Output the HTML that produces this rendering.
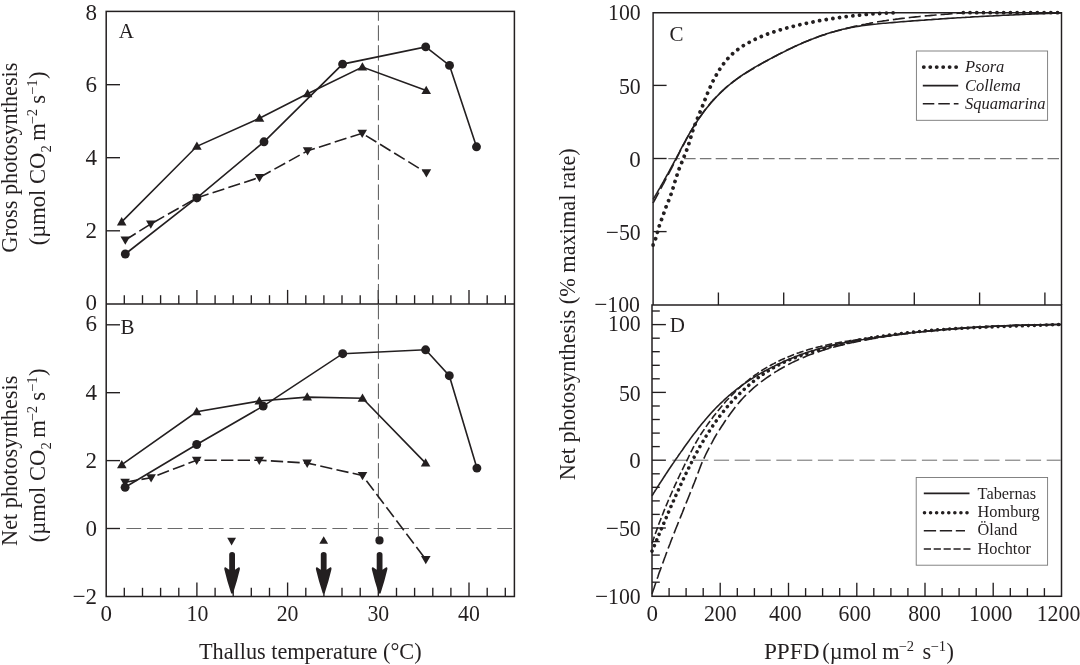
<!DOCTYPE html>
<html lang="en"><head><meta charset="utf-8"><title>Photosynthesis responses</title>
<style>
html,body{margin:0;padding:0;background:#fff;}
body{width:1080px;height:665px;overflow:hidden;}
svg{display:block;}
svg text{font-family:"Liberation Serif","Times New Roman",serif;fill:#231f20;}
</style></head><body>
<svg width="1080" height="665" viewBox="0 0 1080 665">
<rect width="1080" height="665" fill="#fff"/>
<rect x="106.2" y="11.4" width="408.2" height="585.1" fill="none" stroke="#231f20" stroke-width="1.5"/>
<line x1="106.2" y1="303.9" x2="514.4" y2="303.9" stroke="#231f20" stroke-width="1.5" />
<path d="M653.1 305 L653.1 12.8 L1061.5 12.8 L1061.5 305" fill="none" stroke="#231f20" stroke-width="1.45" />
<rect x="652.0" y="305.0" width="409.5" height="291.3" fill="none" stroke="#231f20" stroke-width="1.5"/>
<line x1="124.3" y1="303.9" x2="124.3" y2="295.2" stroke="#231f20" stroke-width="1.35" />
<line x1="124.3" y1="596.5" x2="124.3" y2="587.8" stroke="#231f20" stroke-width="1.35" />
<line x1="142.5" y1="303.9" x2="142.5" y2="295.2" stroke="#231f20" stroke-width="1.35" />
<line x1="142.5" y1="596.5" x2="142.5" y2="587.8" stroke="#231f20" stroke-width="1.35" />
<line x1="160.6" y1="303.9" x2="160.6" y2="295.2" stroke="#231f20" stroke-width="1.35" />
<line x1="160.6" y1="596.5" x2="160.6" y2="587.8" stroke="#231f20" stroke-width="1.35" />
<line x1="178.8" y1="303.9" x2="178.8" y2="295.2" stroke="#231f20" stroke-width="1.35" />
<line x1="178.8" y1="596.5" x2="178.8" y2="587.8" stroke="#231f20" stroke-width="1.35" />
<line x1="196.9" y1="303.9" x2="196.9" y2="289.9" stroke="#231f20" stroke-width="1.35" />
<line x1="196.9" y1="596.5" x2="196.9" y2="582.5" stroke="#231f20" stroke-width="1.35" />
<line x1="215.1" y1="303.9" x2="215.1" y2="295.2" stroke="#231f20" stroke-width="1.35" />
<line x1="215.1" y1="596.5" x2="215.1" y2="587.8" stroke="#231f20" stroke-width="1.35" />
<line x1="233.2" y1="303.9" x2="233.2" y2="295.2" stroke="#231f20" stroke-width="1.35" />
<line x1="233.2" y1="596.5" x2="233.2" y2="587.8" stroke="#231f20" stroke-width="1.35" />
<line x1="251.3" y1="303.9" x2="251.3" y2="295.2" stroke="#231f20" stroke-width="1.35" />
<line x1="251.3" y1="596.5" x2="251.3" y2="587.8" stroke="#231f20" stroke-width="1.35" />
<line x1="269.5" y1="303.9" x2="269.5" y2="295.2" stroke="#231f20" stroke-width="1.35" />
<line x1="269.5" y1="596.5" x2="269.5" y2="587.8" stroke="#231f20" stroke-width="1.35" />
<line x1="287.6" y1="303.9" x2="287.6" y2="289.9" stroke="#231f20" stroke-width="1.35" />
<line x1="287.6" y1="596.5" x2="287.6" y2="582.5" stroke="#231f20" stroke-width="1.35" />
<line x1="305.8" y1="303.9" x2="305.8" y2="295.2" stroke="#231f20" stroke-width="1.35" />
<line x1="305.8" y1="596.5" x2="305.8" y2="587.8" stroke="#231f20" stroke-width="1.35" />
<line x1="323.9" y1="303.9" x2="323.9" y2="295.2" stroke="#231f20" stroke-width="1.35" />
<line x1="323.9" y1="596.5" x2="323.9" y2="587.8" stroke="#231f20" stroke-width="1.35" />
<line x1="342" y1="303.9" x2="342" y2="295.2" stroke="#231f20" stroke-width="1.35" />
<line x1="342" y1="596.5" x2="342" y2="587.8" stroke="#231f20" stroke-width="1.35" />
<line x1="360.2" y1="303.9" x2="360.2" y2="295.2" stroke="#231f20" stroke-width="1.35" />
<line x1="360.2" y1="596.5" x2="360.2" y2="587.8" stroke="#231f20" stroke-width="1.35" />
<line x1="378.3" y1="303.9" x2="378.3" y2="289.9" stroke="#231f20" stroke-width="1.35" />
<line x1="378.3" y1="596.5" x2="378.3" y2="582.5" stroke="#231f20" stroke-width="1.35" />
<line x1="396.5" y1="303.9" x2="396.5" y2="295.2" stroke="#231f20" stroke-width="1.35" />
<line x1="396.5" y1="596.5" x2="396.5" y2="587.8" stroke="#231f20" stroke-width="1.35" />
<line x1="414.6" y1="303.9" x2="414.6" y2="295.2" stroke="#231f20" stroke-width="1.35" />
<line x1="414.6" y1="596.5" x2="414.6" y2="587.8" stroke="#231f20" stroke-width="1.35" />
<line x1="432.8" y1="303.9" x2="432.8" y2="295.2" stroke="#231f20" stroke-width="1.35" />
<line x1="432.8" y1="596.5" x2="432.8" y2="587.8" stroke="#231f20" stroke-width="1.35" />
<line x1="450.9" y1="303.9" x2="450.9" y2="295.2" stroke="#231f20" stroke-width="1.35" />
<line x1="450.9" y1="596.5" x2="450.9" y2="587.8" stroke="#231f20" stroke-width="1.35" />
<line x1="469" y1="303.9" x2="469" y2="289.9" stroke="#231f20" stroke-width="1.35" />
<line x1="469" y1="596.5" x2="469" y2="582.5" stroke="#231f20" stroke-width="1.35" />
<line x1="487.2" y1="303.9" x2="487.2" y2="295.2" stroke="#231f20" stroke-width="1.35" />
<line x1="487.2" y1="596.5" x2="487.2" y2="587.8" stroke="#231f20" stroke-width="1.35" />
<line x1="505.3" y1="303.9" x2="505.3" y2="295.2" stroke="#231f20" stroke-width="1.35" />
<line x1="505.3" y1="596.5" x2="505.3" y2="587.8" stroke="#231f20" stroke-width="1.35" />
<line x1="106.2" y1="230.8" x2="120" y2="230.8" stroke="#231f20" stroke-width="1.35" />
<line x1="106.2" y1="157.7" x2="120" y2="157.7" stroke="#231f20" stroke-width="1.35" />
<line x1="106.2" y1="84.7" x2="120" y2="84.7" stroke="#231f20" stroke-width="1.35" />
<line x1="106.2" y1="528.5" x2="120" y2="528.5" stroke="#231f20" stroke-width="1.35" />
<line x1="106.2" y1="460.6" x2="120" y2="460.6" stroke="#231f20" stroke-width="1.35" />
<line x1="106.2" y1="392.7" x2="120" y2="392.7" stroke="#231f20" stroke-width="1.35" />
<line x1="106.2" y1="324.8" x2="120" y2="324.8" stroke="#231f20" stroke-width="1.35" />
<line x1="718.4" y1="305" x2="718.4" y2="292.5" stroke="#231f20" stroke-width="1.35" />
<line x1="783.7" y1="305" x2="783.7" y2="292.5" stroke="#231f20" stroke-width="1.35" />
<line x1="849" y1="305" x2="849" y2="292.5" stroke="#231f20" stroke-width="1.35" />
<line x1="914.3" y1="305" x2="914.3" y2="292.5" stroke="#231f20" stroke-width="1.35" />
<line x1="979.6" y1="305" x2="979.6" y2="292.5" stroke="#231f20" stroke-width="1.35" />
<line x1="1044.9" y1="305" x2="1044.9" y2="292.5" stroke="#231f20" stroke-width="1.35" />
<line x1="653.1" y1="85.4" x2="666.6" y2="85.4" stroke="#231f20" stroke-width="1.35" />
<line x1="653.1" y1="158.5" x2="666.6" y2="158.5" stroke="#231f20" stroke-width="1.35" />
<line x1="653.1" y1="231.6" x2="666.6" y2="231.6" stroke="#231f20" stroke-width="1.35" />
<line x1="669.1" y1="596.3" x2="669.1" y2="588.1" stroke="#231f20" stroke-width="1.35" />
<line x1="686.1" y1="596.3" x2="686.1" y2="588.1" stroke="#231f20" stroke-width="1.35" />
<line x1="703.2" y1="596.3" x2="703.2" y2="588.1" stroke="#231f20" stroke-width="1.35" />
<line x1="720.2" y1="596.3" x2="720.2" y2="582.8" stroke="#231f20" stroke-width="1.35" />
<line x1="737.3" y1="596.3" x2="737.3" y2="588.1" stroke="#231f20" stroke-width="1.35" />
<line x1="754.4" y1="596.3" x2="754.4" y2="588.1" stroke="#231f20" stroke-width="1.35" />
<line x1="771.4" y1="596.3" x2="771.4" y2="588.1" stroke="#231f20" stroke-width="1.35" />
<line x1="788.5" y1="596.3" x2="788.5" y2="582.8" stroke="#231f20" stroke-width="1.35" />
<line x1="805.6" y1="596.3" x2="805.6" y2="588.1" stroke="#231f20" stroke-width="1.35" />
<line x1="822.6" y1="596.3" x2="822.6" y2="588.1" stroke="#231f20" stroke-width="1.35" />
<line x1="839.7" y1="596.3" x2="839.7" y2="588.1" stroke="#231f20" stroke-width="1.35" />
<line x1="856.8" y1="596.3" x2="856.8" y2="582.8" stroke="#231f20" stroke-width="1.35" />
<line x1="873.8" y1="596.3" x2="873.8" y2="588.1" stroke="#231f20" stroke-width="1.35" />
<line x1="890.9" y1="596.3" x2="890.9" y2="588.1" stroke="#231f20" stroke-width="1.35" />
<line x1="907.9" y1="596.3" x2="907.9" y2="588.1" stroke="#231f20" stroke-width="1.35" />
<line x1="925" y1="596.3" x2="925" y2="582.8" stroke="#231f20" stroke-width="1.35" />
<line x1="942.1" y1="596.3" x2="942.1" y2="588.1" stroke="#231f20" stroke-width="1.35" />
<line x1="959.1" y1="596.3" x2="959.1" y2="588.1" stroke="#231f20" stroke-width="1.35" />
<line x1="976.2" y1="596.3" x2="976.2" y2="588.1" stroke="#231f20" stroke-width="1.35" />
<line x1="993.2" y1="596.3" x2="993.2" y2="582.8" stroke="#231f20" stroke-width="1.35" />
<line x1="1010.3" y1="596.3" x2="1010.3" y2="588.1" stroke="#231f20" stroke-width="1.35" />
<line x1="1027.4" y1="596.3" x2="1027.4" y2="588.1" stroke="#231f20" stroke-width="1.35" />
<line x1="1044.4" y1="596.3" x2="1044.4" y2="588.1" stroke="#231f20" stroke-width="1.35" />
<line x1="652" y1="582.2" x2="659.8" y2="582.2" stroke="#231f20" stroke-width="1.35" />
<line x1="652" y1="568.7" x2="659.8" y2="568.7" stroke="#231f20" stroke-width="1.35" />
<line x1="652" y1="555.1" x2="659.8" y2="555.1" stroke="#231f20" stroke-width="1.35" />
<line x1="652" y1="541.6" x2="659.8" y2="541.6" stroke="#231f20" stroke-width="1.35" />
<line x1="652" y1="528" x2="665.9" y2="528" stroke="#231f20" stroke-width="1.35" />
<line x1="652" y1="514.4" x2="659.8" y2="514.4" stroke="#231f20" stroke-width="1.35" />
<line x1="652" y1="500.9" x2="659.8" y2="500.9" stroke="#231f20" stroke-width="1.35" />
<line x1="652" y1="487.3" x2="659.8" y2="487.3" stroke="#231f20" stroke-width="1.35" />
<line x1="652" y1="473.8" x2="659.8" y2="473.8" stroke="#231f20" stroke-width="1.35" />
<line x1="652" y1="460.2" x2="665.9" y2="460.2" stroke="#231f20" stroke-width="1.35" />
<line x1="652" y1="446.6" x2="659.8" y2="446.6" stroke="#231f20" stroke-width="1.35" />
<line x1="652" y1="433.1" x2="659.8" y2="433.1" stroke="#231f20" stroke-width="1.35" />
<line x1="652" y1="419.5" x2="659.8" y2="419.5" stroke="#231f20" stroke-width="1.35" />
<line x1="652" y1="406" x2="659.8" y2="406" stroke="#231f20" stroke-width="1.35" />
<line x1="652" y1="392.4" x2="665.9" y2="392.4" stroke="#231f20" stroke-width="1.35" />
<line x1="652" y1="378.8" x2="659.8" y2="378.8" stroke="#231f20" stroke-width="1.35" />
<line x1="652" y1="365.3" x2="659.8" y2="365.3" stroke="#231f20" stroke-width="1.35" />
<line x1="652" y1="351.7" x2="659.8" y2="351.7" stroke="#231f20" stroke-width="1.35" />
<line x1="652" y1="338.2" x2="659.8" y2="338.2" stroke="#231f20" stroke-width="1.35" />
<line x1="652" y1="324.6" x2="665.9" y2="324.6" stroke="#231f20" stroke-width="1.35" />
<line x1="652" y1="311" x2="659.8" y2="311" stroke="#231f20" stroke-width="1.35" />
<line x1="126.4" y1="528.5" x2="513.7" y2="528.5" stroke="#6a6a6a" stroke-width="1.0" stroke-dasharray="14.8 5.8"/>
<line x1="668.3" y1="158.5" x2="1060.8" y2="158.5" stroke="#777" stroke-width="1.25" stroke-dasharray="11.5 4.3"/>
<line x1="672.3" y1="460.2" x2="1060.8" y2="460.2" stroke="#6a6a6a" stroke-width="1.0" stroke-dasharray="15.2 5.6"/>
<line x1="378.4" y1="11.4" x2="378.4" y2="536.5" stroke="#555" stroke-width="1.0" stroke-dasharray="15.4 4.5" stroke-dashoffset="6"/>
<path d="M125.3 254 L196.9 197.9 L264 141.8 L342.6 64.1 L425.7 46.9 L449.5 65.4 L476.5 146.8" fill="none" stroke="#231f20" stroke-width="1.6" />
<path d="M121.7 221.9 L196.9 146.3 L259.5 118.2 L307.6 93.7 L362.4 67.1 L426.2 90.5" fill="none" stroke="#231f20" stroke-width="1.6" />
<path d="M125.3 240 L150.8 224 L196.9 197.9 L259.5 177.4 L307.6 150.8 L362.2 133.3 L426.4 172.8" fill="none" stroke="#231f20" stroke-width="1.6" stroke-dasharray="12.3 4.3"/>
<path d="M125.1 487.3 L196.7 444.5 L263.2 406.1 L342.7 353.7 L425.6 349.8 L449.3 375.7 L476.9 468.1" fill="none" stroke="#231f20" stroke-width="1.6" />
<path d="M121.8 464.7 L196.7 411.8 L259.3 401 L307.2 397.1 L362.5 398.2 L425.6 463.1" fill="none" stroke="#231f20" stroke-width="1.6" />
<path d="M125.1 482.2 L151.1 477.7 L196.7 460.2 L259.3 460.2 L307.2 463.1 L362.5 475.5 L425.8 559.5" fill="none" stroke="#231f20" stroke-width="1.6" stroke-dasharray="12.3 4.3"/>
<circle cx="125.3" cy="254" r="4.45" fill="#231f20"/>
<circle cx="196.9" cy="197.9" r="4.45" fill="#231f20"/>
<circle cx="264" cy="141.8" r="4.45" fill="#231f20"/>
<circle cx="342.6" cy="64.1" r="4.45" fill="#231f20"/>
<circle cx="425.7" cy="46.9" r="4.45" fill="#231f20"/>
<circle cx="449.5" cy="65.4" r="4.45" fill="#231f20"/>
<circle cx="476.5" cy="146.8" r="4.45" fill="#231f20"/>
<circle cx="125.1" cy="487.3" r="4.45" fill="#231f20"/>
<circle cx="196.7" cy="444.5" r="4.45" fill="#231f20"/>
<circle cx="263.2" cy="406.1" r="4.45" fill="#231f20"/>
<circle cx="342.7" cy="353.7" r="4.45" fill="#231f20"/>
<circle cx="425.6" cy="349.8" r="4.45" fill="#231f20"/>
<circle cx="449.3" cy="375.7" r="4.45" fill="#231f20"/>
<circle cx="476.9" cy="468.1" r="4.45" fill="#231f20"/>
<path d="M116.9 225.4 L126.5 225.4 L121.7 217.1Z" fill="#231f20"/>
<path d="M192.1 149.8 L201.7 149.8 L196.9 141.5Z" fill="#231f20"/>
<path d="M254.7 121.7 L264.3 121.7 L259.5 113.4Z" fill="#231f20"/>
<path d="M302.8 97.2 L312.4 97.2 L307.6 88.9Z" fill="#231f20"/>
<path d="M357.6 70.6 L367.2 70.6 L362.4 62.3Z" fill="#231f20"/>
<path d="M421.4 94 L431 94 L426.2 85.7Z" fill="#231f20"/>
<path d="M117 468.2 L126.6 468.2 L121.8 459.9Z" fill="#231f20"/>
<path d="M191.9 415.3 L201.5 415.3 L196.7 407Z" fill="#231f20"/>
<path d="M254.5 404.5 L264.1 404.5 L259.3 396.2Z" fill="#231f20"/>
<path d="M302.4 400.6 L312 400.6 L307.2 392.3Z" fill="#231f20"/>
<path d="M357.7 401.7 L367.3 401.7 L362.5 393.4Z" fill="#231f20"/>
<path d="M420.8 466.6 L430.4 466.6 L425.6 458.3Z" fill="#231f20"/>
<path d="M120.5 236.5 L130.1 236.5 L125.3 244.8Z" fill="#231f20"/>
<path d="M146 220.5 L155.6 220.5 L150.8 228.8Z" fill="#231f20"/>
<path d="M192.1 194.4 L201.7 194.4 L196.9 202.7Z" fill="#231f20"/>
<path d="M254.7 173.9 L264.3 173.9 L259.5 182.2Z" fill="#231f20"/>
<path d="M302.8 147.3 L312.4 147.3 L307.6 155.6Z" fill="#231f20"/>
<path d="M357.4 129.8 L367 129.8 L362.2 138.1Z" fill="#231f20"/>
<path d="M421.6 169.3 L431.2 169.3 L426.4 177.6Z" fill="#231f20"/>
<path d="M120.3 478.7 L129.9 478.7 L125.1 487Z" fill="#231f20"/>
<path d="M146.3 474.2 L155.9 474.2 L151.1 482.5Z" fill="#231f20"/>
<path d="M191.9 456.7 L201.5 456.7 L196.7 465Z" fill="#231f20"/>
<path d="M254.5 456.7 L264.1 456.7 L259.3 465Z" fill="#231f20"/>
<path d="M302.4 459.6 L312 459.6 L307.2 467.9Z" fill="#231f20"/>
<path d="M357.7 472 L367.3 472 L362.5 480.3Z" fill="#231f20"/>
<path d="M421 556 L430.6 556 L425.8 564.3Z" fill="#231f20"/>
<path d="M229.2 554.6 Q229.2 552 232.1 552 Q235 552 235 554.6 L235 569.8 L238.7 567.2 Q240.4 566.8 239.7 570.1 Q237.3 580.6 233 593.4 L231.2 593.4 Q226.9 580.6 224.5 570.1 Q223.8 566.8 225.5 567.2 L229.2 569.8Z" fill="#231f20"/>
<path d="M320.8 554.6 Q320.8 552 323.7 552 Q326.6 552 326.6 554.6 L326.6 569.8 L330.3 567.2 Q332 566.8 331.3 570.1 Q328.9 580.6 324.6 593.4 L322.8 593.4 Q318.5 580.6 316.1 570.1 Q315.4 566.8 317.1 567.2 L320.8 569.8Z" fill="#231f20"/>
<path d="M376.7 554.6 Q376.7 552 379.6 552 Q382.5 552 382.5 554.6 L382.5 569.8 L386.2 567.2 Q387.9 566.8 387.2 570.1 Q384.8 580.6 380.5 593.4 L378.7 593.4 Q374.4 580.6 372 570.1 Q371.3 566.8 373 567.2 L376.7 569.8Z" fill="#231f20"/>
<path d="M227.2 537.8 L236 537.8 L231.6 545.4Z" fill="#231f20"/>
<path d="M319.3 543.8 L328.1 543.8 L323.7 536.2Z" fill="#231f20"/>
<circle cx="379.5" cy="540.4" r="4.1" fill="#231f20"/>
<path d="M653.1 199.4 L653.2 199.3 L653.3 199.1 L653.5 198.8 L653.7 198.4 L653.9 198 L654.2 197.5 L654.5 197 L654.9 196.4 L655.2 195.8 L655.6 195.1 L656.1 194.4 L656.5 193.7 L657 192.9 L657.5 192 L658 191.1 L658.5 190.2 L659 189.3 L659.6 188.3 L660.2 187.3 L660.8 186.2 L661.4 185.1 L662.1 183.9 L662.7 182.8 L663.4 181.6 L664.1 180.3 L664.8 179 L665.6 177.7 L666.3 176.4 L667.1 175 L667.9 173.6 L668.7 172.1 L669.5 170.7 L670.3 169.1 L671.1 167.6 L672 166 L672.9 164.4 L673.7 162.8 L674.6 161.1 L675.6 159.4 L676.5 157.7 L677.4 155.9 L678.4 154 L679.4 152.1 L680.3 150.2 L681.3 148.3 L682.3 146.4 L683.4 144.5 L684.4 142.6 L685.5 140.7 L686.5 138.7 L687.6 136.8 L688.7 134.9 L689.8 132.9 L690.9 131 L692 129.1 L693.2 127.3 L694.3 125.5 L695.5 123.7 L696.7 122 L697.8 120.2 L699 118.5 L700.2 116.8 L701.5 115 L702.7 113.3 L704 111.6 L705.2 110 L706.5 108.3 L707.8 106.7 L709.1 105.2 L710.4 103.6 L711.7 102.1 L713 100.6 L714.3 99.2 L715.7 97.7 L717 96.3 L718.4 94.9 L719.8 93.5 L721.2 92.2 L722.6 90.8 L724 89.5 L725.4 88.2 L726.8 87 L728.3 85.7 L729.7 84.5 L731.2 83.3 L732.7 82.1 L734.2 81 L735.7 79.8 L737.2 78.7 L738.7 77.6 L740.2 76.5 L741.8 75.5 L743.3 74.4 L744.9 73.4 L746.4 72.4 L748 71.4 L749.6 70.4 L751.2 69.4 L752.8 68.5 L754.4 67.5 L756 66.6 L757.7 65.6 L759.3 64.7 L761 63.8 L762.6 62.9 L764.3 62 L766 61.1 L767.7 60.2 L769.4 59.3 L771.1 58.4 L772.8 57.5 L774.6 56.6 L776.3 55.7 L778 54.8 L779.8 53.9 L781.6 53 L783.3 52.1 L785.1 51.2 L786.9 50.4 L788.7 49.5 L790.5 48.6 L792.4 47.7 L794.2 46.9 L796 46 L797.9 45.1 L799.7 44.3 L801.6 43.4 L803.5 42.6 L805.4 41.8 L807.3 41 L809.2 40.2 L811.1 39.4 L813 38.7 L814.9 37.9 L816.9 37.2 L818.8 36.5 L820.7 35.8 L822.7 35.1 L824.7 34.5 L826.7 33.8 L828.6 33.2 L830.6 32.6 L832.7 32 L834.7 31.4 L836.7 30.9 L838.7 30.3 L840.8 29.8 L842.8 29.3 L844.9 28.9 L846.9 28.4 L849 27.9 L851.1 27.5 L853.2 27.1 L855.3 26.8 L857.4 26.4 L859.5 26.1 L861.6 25.8 L863.7 25.5 L865.9 25.2 L868 24.9 L870.2 24.6 L872.3 24.4 L874.5 24.2 L876.7 24 L878.8 23.7 L881 23.5 L883.2 23.3 L885.5 23.2 L887.7 23 L889.9 22.8 L892.1 22.6 L894.4 22.4 L896.6 22.2 L898.9 22 L901.1 21.8 L903.4 21.6 L905.7 21.5 L908 21.3 L910.3 21.1 L912.6 20.9 L914.9 20.8 L917.2 20.6 L919.5 20.4 L921.9 20.2 L924.2 20.1 L926.5 19.9 L928.9 19.7 L931.3 19.6 L933.6 19.4 L936 19.2 L938.4 19.1 L940.8 18.9 L943.2 18.8 L945.6 18.6 L948 18.4 L950.4 18.3 L952.9 18.1 L955.3 18 L957.8 17.8 L960.2 17.7 L962.7 17.5 L965.1 17.4 L967.6 17.2 L970.1 17.1 L972.6 16.9 L975.1 16.8 L977.6 16.7 L980.1 16.5 L982.6 16.4 L985.1 16.3 L987.7 16.1 L990.2 16 L992.8 15.9 L995.3 15.7 L997.9 15.6 L1000.5 15.5 L1003 15.3 L1005.6 15.2 L1008.2 15.1 L1010.8 15 L1013.4 14.9 L1016 14.7 L1018.6 14.6 L1021.3 14.5 L1023.9 14.4 L1026.5 14.3 L1029.2 14.2 L1031.8 14 L1034.5 13.9 L1037.2 13.8 L1039.8 13.7 L1042.5 13.6 L1045.2 13.5 L1047.9 13.4 L1050.6 13.3 L1053.3 13.2 L1056 13.1 L1058.8 13 L1061.5 12.9" fill="none" stroke="#231f20" stroke-width="1.6" />
<path d="M653.1 203 L653.1 202.9 L653.2 202.7 L653.4 202.5 L653.5 202.2 L653.7 201.8 L654 201.4 L654.2 201 L654.4 200.5 L654.7 200 L655 199.5 L655.3 198.9 L655.7 198.3 L656 197.6 L656.4 196.9 L656.8 196.2 L657.2 195.5 L657.6 194.7 L658 193.9 L658.5 193.1 L658.9 192.2 L659.4 191.3 L659.9 190.4 L660.4 189.5 L660.9 188.5 L661.4 187.5 L662 186.5 L662.5 185.4 L663.1 184.4 L663.7 183.3 L664.3 182.1 L664.9 181 L665.5 179.8 L666.1 178.6 L666.7 177.4 L667.4 176.2 L668 174.9 L668.7 173.6 L669.4 172.3 L670.1 171 L670.8 169.6 L671.5 168.3 L672.2 166.9 L673 165.4 L673.7 164 L674.5 162.5 L675.2 161 L676 159.5 L676.8 158 L677.6 156.4 L678.4 154.8 L679.2 153.2 L680 151.5 L680.8 149.9 L681.7 148.3 L682.5 146.6 L683.4 145 L684.3 143.3 L685.2 141.7 L686 140 L686.9 138.3 L687.8 136.7 L688.8 135 L689.7 133.3 L690.6 131.7 L691.6 130.1 L692.5 128.4 L693.5 126.9 L694.4 125.4 L695.4 123.8 L696.4 122.3 L697.4 120.8 L698.4 119.3 L699.4 117.8 L700.4 116.4 L701.5 114.9 L702.5 113.4 L703.5 112 L704.6 110.5 L705.7 109.1 L706.7 107.7 L707.8 106.4 L708.9 105 L710 103.7 L711.1 102.4 L712.2 101.2 L713.3 99.9 L714.4 98.7 L715.6 97.5 L716.7 96.3 L717.8 95.1 L719 94 L720.2 92.9 L721.3 91.7 L722.5 90.6 L723.7 89.5 L724.9 88.5 L726.1 87.4 L727.3 86.4 L728.5 85.4 L729.7 84.4 L731 83.4 L732.2 82.5 L733.4 81.5 L734.7 80.6 L735.9 79.7 L737.2 78.8 L738.5 77.9 L739.8 77 L741.1 76.2 L742.4 75.3 L743.7 74.5 L745 73.6 L746.3 72.8 L747.6 72 L748.9 71.2 L750.3 70.4 L751.6 69.6 L753 68.8 L754.3 68 L755.7 67.2 L757.1 66.4 L758.4 65.6 L759.8 64.8 L761.2 63.9 L762.6 63.1 L764 62.3 L765.4 61.5 L766.8 60.7 L768.3 59.9 L769.7 59.1 L771.1 58.4 L772.6 57.6 L774 56.8 L775.5 56 L777 55.2 L778.4 54.4 L779.9 53.7 L781.4 52.9 L782.9 52.1 L784.4 51.3 L785.9 50.6 L787.4 49.8 L788.9 49.1 L790.4 48.4 L792 47.7 L793.5 46.9 L795 46.2 L796.6 45.5 L798.1 44.8 L799.7 44.2 L801.3 43.5 L802.8 42.8 L804.4 42.2 L806 41.5 L807.6 40.9 L809.2 40.2 L810.8 39.6 L812.4 39 L814 38.4 L815.6 37.8 L817.3 37.2 L818.9 36.6 L820.5 36.1 L822.2 35.5 L823.8 35 L825.5 34.4 L827.2 33.9 L828.8 33.3 L830.5 32.8 L832.2 32.3 L833.9 31.8 L835.6 31.3 L837.3 30.8 L839 30.4 L840.7 29.9 L842.4 29.4 L844.1 29 L845.9 28.5 L847.6 28.1 L849.4 27.7 L851.1 27.2 L852.9 26.8 L854.6 26.4 L856.4 26 L858.1 25.6 L859.9 25.3 L861.7 24.9 L863.5 24.5 L865.3 24.2 L867.1 23.8 L868.9 23.5 L870.7 23.1 L872.5 22.8 L874.3 22.5 L876.2 22.2 L878 21.8 L879.8 21.5 L881.7 21.2 L883.5 20.9 L885.4 20.7 L887.3 20.4 L889.1 20.1 L891 19.9 L892.9 19.6 L894.8 19.4 L896.6 19.1 L898.5 18.9 L900.4 18.6 L902.3 18.4 L904.2 18.2 L906.2 17.9 L908.1 17.7 L910 17.5 L911.9 17.3 L913.9 17.1 L915.8 16.9 L917.8 16.7 L919.7 16.5 L921.7 16.3 L923.7 16.1 L925.6 15.9 L927.6 15.8 L929.6 15.6 L931.6 15.4 L933.6 15.2 L935.6 15 L937.6 14.9 L939.6 14.7 L941.6 14.5 L943.6 14.4 L945.6 14.2 L947.7 14.1 L949.7 13.9 L951.7 13.7 L953.8 13.6 L955.8 13.4 L957.9 13.2 L959.9 13.1 L962 12.9" fill="none" stroke="#231f20" stroke-width="1.6" stroke-dasharray="12 4"/>
<path d="M653.1 245 L653.1 244.9 L653.2 244.8 L653.3 244.7 L653.4 244.5 L653.5 244.2 L653.6 244 L653.7 243.7 L653.9 243.3 L654 242.9 L654.2 242.5 L654.4 242.1 L654.6 241.6 L654.8 241.1 L655 240.5 L655.2 239.9 L655.5 239.2 L655.7 238.5 L656 237.7 L656.2 236.9 L656.5 235.9 L656.8 234.9 L657.1 233.9 L657.3 232.7 L657.6 231.6 L658 230.4 L658.3 229.2 L658.6 228.1 L658.9 226.9 L659.3 225.8 L659.6 224.8 L660 223.8 L660.3 222.8 L660.7 221.8 L661 220.9 L661.4 219.9 L661.8 218.9 L662.2 217.8 L662.6 216.8 L663 215.7 L663.4 214.5 L663.8 213.3 L664.2 212.1 L664.7 210.8 L665.1 209.6 L665.5 208.3 L666 207 L666.4 205.8 L666.9 204.6 L667.4 203.5 L667.8 202.4 L668.3 201.3 L668.8 200.2 L669.3 199 L669.7 197.8 L670.2 196.5 L670.7 195.1 L671.3 193.6 L671.8 192.1 L672.3 190.5 L672.8 188.8 L673.3 187.2 L673.9 185.5 L674.4 183.7 L674.9 181.8 L675.5 179.9 L676.1 178.1 L676.6 176.3 L677.2 174.5 L677.7 172.7 L678.3 171 L678.9 169.4 L679.5 167.9 L680.1 166.4 L680.7 164.9 L681.3 163.5 L681.9 162.1 L682.5 160.6 L683.1 159.2 L683.7 157.7 L684.3 156.1 L684.9 154.5 L685.6 152.9 L686.2 151.2 L686.9 149.5 L687.5 147.7 L688.2 145.9 L688.8 143.9 L689.5 141.8 L690.1 139.6 L690.8 137.3 L691.5 135.1 L692.1 132.9 L692.8 130.7 L693.5 128.7 L694.2 126.8 L694.9 124.9 L695.6 123.1 L696.3 121.2 L697 119.5 L697.7 117.7 L698.4 115.9 L699.2 114.2 L699.9 112.4 L700.6 110.6 L701.3 108.8 L702.1 107 L702.8 105.2 L703.6 103.2 L704.3 101.2 L705.1 99.3 L705.8 97.4 L706.6 95.5 L707.4 93.6 L708.1 91.7 L708.9 89.9 L709.7 88.2 L710.5 86.4 L711.2 84.8 L712 83.1 L712.8 81.5 L713.6 79.9 L714.4 78.3 L715.2 76.8 L716.1 75.4 L716.9 73.9 L717.7 72.5 L718.5 71.2 L719.3 69.9 L720.2 68.6 L721 67.3 L721.8 66.1 L722.7 64.9 L723.5 63.8 L724.4 62.7 L725.2 61.6 L726.1 60.5 L726.9 59.5 L727.8 58.6 L728.7 57.6 L729.5 56.7 L730.4 55.8 L731.3 54.9 L732.2 54.1 L733.1 53.3 L734 52.5 L734.9 51.7 L735.7 51 L736.7 50.3 L737.6 49.6 L738.5 48.9 L739.4 48.3 L740.3 47.6 L741.2 47 L742.1 46.4 L743.1 45.8 L744 45.3 L744.9 44.7 L745.9 44.2 L746.8 43.6 L747.8 43.1 L748.7 42.6 L749.7 42.1 L750.6 41.5 L751.6 41.1 L752.5 40.6 L753.5 40.1 L754.5 39.6 L755.4 39.2 L756.4 38.7 L757.4 38.2 L758.4 37.8 L759.4 37.4 L760.4 36.9 L761.3 36.5 L762.3 36.1 L763.3 35.7 L764.3 35.3 L765.4 34.9 L766.4 34.5 L767.4 34.1 L768.4 33.8 L769.4 33.4 L770.4 33 L771.5 32.7 L772.5 32.3 L773.5 32 L774.6 31.6 L775.6 31.3 L776.7 31 L777.7 30.7 L778.8 30.3 L779.8 30 L780.9 29.7 L781.9 29.4 L783 29.1 L784.1 28.8 L785.1 28.5 L786.2 28.2 L787.3 27.9 L788.4 27.6 L789.4 27.3 L790.5 27.1 L791.6 26.8 L792.7 26.5 L793.8 26.2 L794.9 26 L796 25.7 L797.1 25.4 L798.2 25.2 L799.3 24.9 L800.5 24.6 L801.6 24.4 L802.7 24.1 L803.8 23.9 L805 23.6 L806.1 23.4 L807.2 23.1 L808.4 22.9 L809.5 22.7 L810.6 22.4 L811.8 22.2 L812.9 22 L814.1 21.7 L815.3 21.5 L816.4 21.3 L817.6 21.1 L818.7 20.9 L819.9 20.6 L821.1 20.4 L822.3 20.2 L823.4 20 L824.6 19.8 L825.8 19.6 L827 19.4 L828.2 19.2 L829.4 19 L830.6 18.8 L831.8 18.6 L833 18.5 L834.2 18.3 L835.4 18.1 L836.6 17.9 L837.8 17.7 L839 17.6 L840.3 17.4 L841.5 17.2 L842.7 17.1 L843.9 16.9 L845.2 16.7 L846.4 16.6 L847.6 16.4 L848.9 16.3 L850.1 16.1 L851.4 16 L852.6 15.8 L853.9 15.7 L855.1 15.6 L856.4 15.4 L857.7 15.3 L858.9 15.2 L860.2 15 L861.5 14.9 L862.7 14.8 L864 14.7 L865.3 14.6 L866.6 14.4 L867.9 14.3 L869.1 14.2 L870.4 14.1 L871.7 14 L873 13.9 L874.3 13.8 L875.6 13.8 L876.9 13.7 L878.2 13.6 L879.6 13.5 L880.9 13.4 L882.2 13.4 L883.5 13.3 L884.8 13.2 L886.2 13.1 L887.5 13.1 L888.8 13 L890.1 12.9 L891.5 12.9 L892.8 12.8 L894.2 12.8 L895.5 12.8" fill="none" stroke="#231f20" stroke-width="3.8" stroke-dasharray="0.01 6.72" stroke-linecap="round"/>
<path d="M963.3 12.7 L964.8 12.7 L966.3 12.7 L967.8 12.7 L969.3 12.7 L970.7 12.7 L972.2 12.7 L973.7 12.7 L975.2 12.7 L976.7 12.7 L978.2 12.7 L979.7 12.7 L981.2 12.7 L982.7 12.7 L984.3 12.7 L985.8 12.7 L987.3 12.7 L988.8 12.7 L990.3 12.7 L991.9 12.7 L993.4 12.7 L994.9 12.7 L996.5 12.7 L998 12.7 L999.5 12.7 L1001.1 12.7 L1002.6 12.7 L1004.2 12.7 L1005.7 12.7 L1007.3 12.7 L1008.8 12.7 L1010.4 12.7 L1011.9 12.7 L1013.5 12.7 L1015.1 12.7 L1016.6 12.7 L1018.2 12.7 L1019.8 12.7 L1021.3 12.7 L1022.9 12.7 L1024.5 12.7 L1026.1 12.7 L1027.7 12.7 L1029.2 12.7 L1030.8 12.7 L1032.4 12.7 L1034 12.7 L1035.6 12.7 L1037.2 12.7 L1038.8 12.7 L1040.4 12.7 L1042 12.7 L1043.6 12.7 L1045.2 12.7 L1046.9 12.7 L1048.5 12.7 L1050.1 12.7 L1051.7 12.7 L1053.3 12.7 L1055 12.7 L1056.6 12.7 L1058.2 12.7 L1059.9 12.7 L1061.5 12.8" fill="none" stroke="#231f20" stroke-width="3.8" stroke-dasharray="0.01 6.72" stroke-linecap="round"/>
<path d="M652 495.8 L652.1 495.7 L652.2 495.5 L652.4 495.2 L652.6 494.9 L652.8 494.4 L653.1 494 L653.4 493.5 L653.8 492.9 L654.2 492.3 L654.6 491.7 L655 491 L655.4 490.3 L655.9 489.6 L656.4 488.8 L656.9 488 L657.4 487.2 L658 486.3 L658.5 485.4 L659.1 484.5 L659.7 483.5 L660.4 482.6 L661 481.6 L661.7 480.5 L662.4 479.5 L663.1 478.4 L663.8 477.3 L664.5 476.2 L665.3 475 L666 473.9 L666.8 472.7 L667.6 471.5 L668.4 470.3 L669.2 469 L670.1 467.8 L670.9 466.5 L671.8 465.2 L672.7 463.9 L673.6 462.6 L674.5 461.2 L675.4 459.9 L676.4 458.5 L677.4 457.1 L678.3 455.7 L679.3 454.3 L680.3 452.9 L681.3 451.4 L682.4 450 L683.4 448.5 L684.4 447 L685.5 445.5 L686.6 444 L687.7 442.5 L688.8 441 L689.9 439.4 L691 437.9 L692.2 436.3 L693.3 434.8 L694.5 433.3 L695.7 431.7 L696.9 430.2 L698.1 428.6 L699.3 427.1 L700.5 425.6 L701.7 424 L703 422.5 L704.3 421 L705.5 419.5 L706.8 418 L708.1 416.5 L709.4 415 L710.7 413.5 L712.1 412 L713.4 410.6 L714.7 409.2 L716.1 407.8 L717.5 406.4 L718.9 405 L720.3 403.6 L721.7 402.3 L723.1 401 L724.5 399.6 L725.9 398.3 L727.4 397 L728.9 395.7 L730.3 394.5 L731.8 393.2 L733.3 392 L734.8 390.8 L736.3 389.6 L737.8 388.4 L739.4 387.3 L740.9 386.1 L742.4 385 L744 383.9 L745.6 382.8 L747.2 381.7 L748.8 380.7 L750.4 379.6 L752 378.6 L753.6 377.6 L755.2 376.5 L756.9 375.6 L758.5 374.6 L760.2 373.6 L761.8 372.6 L763.5 371.7 L765.2 370.8 L766.9 369.9 L768.6 369 L770.3 368.1 L772 367.2 L773.8 366.4 L775.5 365.5 L777.3 364.6 L779 363.8 L780.8 363 L782.6 362.2 L784.4 361.4 L786.2 360.6 L788 359.8 L789.8 359 L791.6 358.2 L793.5 357.5 L795.3 356.7 L797.2 356 L799 355.3 L800.9 354.6 L802.8 353.9 L804.7 353.2 L806.6 352.6 L808.5 351.9 L810.4 351.3 L812.3 350.7 L814.3 350.2 L816.2 349.6 L818.1 349 L820.1 348.5 L822.1 347.9 L824 347.4 L826 346.9 L828 346.3 L830 345.8 L832 345.4 L834.1 344.9 L836.1 344.5 L838.1 344 L840.2 343.6 L842.2 343.2 L844.3 342.8 L846.3 342.4 L848.4 342 L850.5 341.6 L852.6 341.2 L854.7 340.9 L856.8 340.5 L858.9 340.2 L861.1 339.8 L863.2 339.5 L865.3 339.1 L867.5 338.8 L869.6 338.4 L871.8 338.1 L874 337.8 L876.2 337.4 L878.4 337.1 L880.6 336.8 L882.8 336.5 L885 336.2 L887.2 335.9 L889.4 335.6 L891.7 335.3 L893.9 335 L896.2 334.7 L898.4 334.4 L900.7 334.1 L903 333.9 L905.3 333.6 L907.6 333.3 L909.9 333 L912.2 332.8 L914.5 332.5 L916.8 332.2 L919.1 332 L921.5 331.7 L923.8 331.5 L926.2 331.3 L928.5 331 L930.9 330.8 L933.3 330.6 L935.7 330.4 L938.1 330.2 L940.5 329.9 L942.9 329.7 L945.3 329.5 L947.7 329.3 L950.1 329.1 L952.6 328.9 L955 328.7 L957.5 328.5 L959.9 328.3 L962.4 328.2 L964.9 328 L967.4 327.8 L969.9 327.6 L972.3 327.5 L974.9 327.3 L977.4 327.2 L979.9 327 L982.4 326.9 L984.9 326.8 L987.5 326.6 L990 326.5 L992.6 326.4 L995.1 326.2 L997.7 326.1 L1000.3 326 L1002.9 325.9 L1005.5 325.8 L1008.1 325.7 L1010.7 325.6 L1013.3 325.5 L1015.9 325.4 L1018.5 325.3 L1021.2 325.2 L1023.8 325.2 L1026.4 325.1 L1029.1 325 L1031.8 325 L1034.4 324.9 L1037.1 324.9 L1039.8 324.8 L1042.5 324.7 L1045.2 324.7 L1047.9 324.7 L1050.6 324.6 L1053.3 324.6 L1056 324.5 L1058.8 324.5 L1061.5 324.5" fill="none" stroke="#231f20" stroke-width="1.6" />
<path d="M652 593.9 L652.1 593.7 L652.2 593.3 L652.4 592.8 L652.6 592.1 L652.8 591.4 L653.1 590.5 L653.4 589.6 L653.8 588.6 L654.2 587.5 L654.6 586.3 L655 585.1 L655.4 583.8 L655.9 582.5 L656.4 581 L656.9 579.6 L657.4 578 L658 576.5 L658.5 574.8 L659.1 573.1 L659.7 571.4 L660.4 569.7 L661 567.8 L661.7 566 L662.4 564.1 L663.1 562.2 L663.8 560.2 L664.5 558.2 L665.3 556.2 L666 554.2 L666.8 552.1 L667.6 550 L668.4 547.8 L669.2 545.7 L670.1 543.5 L670.9 541.2 L671.8 539 L672.7 536.7 L673.6 534.4 L674.5 532.1 L675.4 529.7 L676.4 527.3 L677.4 524.9 L678.3 522.5 L679.3 520.1 L680.3 517.6 L681.3 515.1 L682.4 512.5 L683.4 509.9 L684.4 507.3 L685.5 504.6 L686.6 501.9 L687.7 499.2 L688.8 496.5 L689.9 493.7 L691 490.9 L692.2 488 L693.3 485.1 L694.5 482.2 L695.7 479.1 L696.9 475.9 L698.1 472.7 L699.3 469.5 L700.5 466.4 L701.7 463.3 L703 460.4 L704.3 457.7 L705.5 455 L706.8 452.3 L708.1 449.8 L709.4 447.2 L710.7 444.7 L712.1 442.3 L713.4 439.8 L714.7 437.5 L716.1 435.1 L717.5 432.8 L718.9 430.6 L720.3 428.5 L721.7 426.3 L723.1 424.2 L724.5 422 L725.9 419.9 L727.4 417.8 L728.9 415.7 L730.3 413.7 L731.8 411.7 L733.3 409.7 L734.8 407.7 L736.3 405.8 L737.8 403.9 L739.4 402.1 L740.9 400.4 L742.4 398.7 L744 397 L745.6 395.4 L747.2 393.8 L748.8 392.3 L750.4 390.8 L752 389.3 L753.6 387.9 L755.2 386.5 L756.9 385.2 L758.5 383.9 L760.2 382.6 L761.8 381.3 L763.5 380.1 L765.2 378.9 L766.9 377.7 L768.6 376.5 L770.3 375.3 L772 374.2 L773.8 373 L775.5 371.9 L777.3 370.9 L779 369.8 L780.8 368.7 L782.6 367.7 L784.4 366.7 L786.2 365.7 L788 364.7 L789.8 363.8 L791.6 362.9 L793.5 361.9 L795.3 361.1 L797.2 360.2 L799 359.3 L800.9 358.5 L802.8 357.7 L804.7 356.9 L806.6 356.1 L808.5 355.3 L810.4 354.6 L812.3 353.9 L814.3 353.2 L816.2 352.5 L818.1 351.9 L820.1 351.2 L822.1 350.5 L824 349.9 L826 349.3 L828 348.7 L830 348.1 L832 347.5 L834.1 347 L836.1 346.4 L838.1 345.9 L840.2 345.4 L842.2 344.9 L844.3 344.4 L846.3 343.9 L848.4 343.5 L850.5 343 L852.6 342.5 L854.7 342.1 L856.8 341.7 L858.9 341.3 L861.1 340.8 L863.2 340.4 L865.3 340 L867.5 339.6 L869.6 339.2 L871.8 338.8 L874 338.5 L876.2 338.1 L878.4 337.7 L880.6 337.3 L882.8 337 L885 336.6 L887.2 336.3 L889.4 335.9 L891.7 335.6 L893.9 335.3 L896.2 335 L898.4 334.6 L900.7 334.3 L903 334 L905.3 333.7 L907.6 333.4 L909.9 333.1 L912.2 332.8 L914.5 332.5 L916.8 332.3 L919.1 332 L921.5 331.7 L923.8 331.5 L926.2 331.2 L928.5 331 L930.9 330.7 L933.3 330.5 L935.7 330.3 L938.1 330.1 L940.5 329.8 L942.9 329.6 L945.3 329.4 L947.7 329.2 L950.1 329 L952.6 328.8 L955 328.6 L957.5 328.4 L959.9 328.2 L962.4 328.1 L964.9 327.9 L967.4 327.7 L969.9 327.5 L972.3 327.4 L974.9 327.2 L977.4 327.1 L979.9 327 L982.4 326.8 L984.9 326.7 L987.5 326.6 L990 326.5 L992.6 326.3 L995.1 326.2 L997.7 326.1 L1000.3 326 L1002.9 325.9 L1005.5 325.8 L1008.1 325.7 L1010.7 325.6 L1013.3 325.5 L1015.9 325.4 L1018.5 325.4 L1021.2 325.3 L1023.8 325.2 L1026.4 325.1 L1029.1 325.1 L1031.8 325 L1034.4 325 L1037.1 324.9 L1039.8 324.8 L1042.5 324.8 L1045.2 324.7 L1047.9 324.7 L1050.6 324.6 L1053.3 324.6 L1056 324.6 L1058.8 324.5 L1061.5 324.5" fill="none" stroke="#231f20" stroke-width="1.6" stroke-dasharray="12.3 3.8"/>
<path d="M652 543.4 L652.1 543.2 L652.2 542.8 L652.4 542.3 L652.6 541.7 L652.8 540.9 L653.1 540.1 L653.4 539.2 L653.8 538.2 L654.2 537.1 L654.6 536 L655 534.8 L655.4 533.5 L655.9 532.2 L656.4 530.9 L656.9 529.5 L657.4 528 L658 526.5 L658.5 524.9 L659.1 523.3 L659.7 521.7 L660.4 520.1 L661 518.4 L661.7 516.7 L662.4 515 L663.1 513.2 L663.8 511.4 L664.5 509.6 L665.3 507.8 L666 506 L666.8 504.1 L667.6 502.2 L668.4 500.3 L669.2 498.4 L670.1 496.4 L670.9 494.5 L671.8 492.5 L672.7 490.5 L673.6 488.5 L674.5 486.4 L675.4 484.4 L676.4 482.3 L677.4 480.2 L678.3 478.1 L679.3 476 L680.3 473.9 L681.3 471.8 L682.4 469.7 L683.4 467.5 L684.4 465.3 L685.5 463.2 L686.6 461 L687.7 458.8 L688.8 456.5 L689.9 454.2 L691 451.9 L692.2 449.7 L693.3 447.4 L694.5 445.2 L695.7 443 L696.9 440.9 L698.1 438.9 L699.3 436.9 L700.5 434.9 L701.7 433 L703 431.1 L704.3 429.3 L705.5 427.5 L706.8 425.6 L708.1 423.8 L709.4 422 L710.7 420.2 L712.1 418.4 L713.4 416.6 L714.7 414.9 L716.1 413.1 L717.5 411.4 L718.9 409.7 L720.3 408 L721.7 406.3 L723.1 404.6 L724.5 403 L725.9 401.3 L727.4 399.7 L728.9 398.2 L730.3 396.6 L731.8 395.1 L733.3 393.6 L734.8 392.1 L736.3 390.6 L737.8 389.2 L739.4 387.8 L740.9 386.4 L742.4 385 L744 383.7 L745.6 382.4 L747.2 381.1 L748.8 379.8 L750.4 378.5 L752 377.3 L753.6 376.1 L755.2 374.9 L756.9 373.8 L758.5 372.7 L760.2 371.6 L761.8 370.5 L763.5 369.4 L765.2 368.4 L766.9 367.4 L768.6 366.4 L770.3 365.5 L772 364.5 L773.8 363.6 L775.5 362.7 L777.3 361.8 L779 360.9 L780.8 360.1 L782.6 359.3 L784.4 358.5 L786.2 357.7 L788 356.9 L789.8 356.2 L791.6 355.4 L793.5 354.7 L795.3 354 L797.2 353.3 L799 352.7 L800.9 352 L802.8 351.4 L804.7 350.8 L806.6 350.2 L808.5 349.6 L810.4 349.1 L812.3 348.6 L814.3 348.1 L816.2 347.5 L818.1 347 L820.1 346.6 L822.1 346.1 L824 345.6 L826 345.2 L828 344.7 L830 344.3 L832 343.9 L834.1 343.5 L836.1 343.1 L838.1 342.7 L840.2 342.3 L842.2 342 L844.3 341.6 L846.3 341.3 L848.4 341 L850.5 340.6 L852.6 340.3 L854.7 340 L856.8 339.7 L858.9 339.4 L861.1 339.1 L863.2 338.8 L865.3 338.5 L867.5 338.2 L869.6 337.9 L871.8 337.6 L874 337.3 L876.2 337 L878.4 336.7 L880.6 336.5 L882.8 336.2 L885 335.9 L887.2 335.6 L889.4 335.4 L891.7 335.1 L893.9 334.8 L896.2 334.6 L898.4 334.3 L900.7 334.1 L903 333.8 L905.3 333.5 L907.6 333.3 L909.9 333 L912.2 332.8 L914.5 332.5 L916.8 332.3 L919.1 332 L921.5 331.8 L923.8 331.6 L926.2 331.3 L928.5 331.1 L930.9 330.9 L933.3 330.7 L935.7 330.5 L938.1 330.2 L940.5 330 L942.9 329.8 L945.3 329.6 L947.7 329.4 L950.1 329.2 L952.6 329 L955 328.8 L957.5 328.6 L959.9 328.4 L962.4 328.2 L964.9 328 L967.4 327.9 L969.9 327.7 L972.3 327.5 L974.9 327.4 L977.4 327.2 L979.9 327.1 L982.4 326.9 L984.9 326.8 L987.5 326.6 L990 326.5 L992.6 326.3 L995.1 326.2 L997.7 326.1 L1000.3 325.9 L1002.9 325.8 L1005.5 325.7 L1008.1 325.6 L1010.7 325.5 L1013.3 325.4 L1015.9 325.3 L1018.5 325.2 L1021.2 325.2 L1023.8 325.1 L1026.4 325 L1029.1 325 L1031.8 324.9 L1034.4 324.8 L1037.1 324.8 L1039.8 324.7 L1042.5 324.7 L1045.2 324.6 L1047.9 324.6 L1050.6 324.6 L1053.3 324.5 L1056 324.5 L1058.8 324.5 L1061.5 324.5" fill="none" stroke="#231f20" stroke-width="1.6" stroke-dasharray="7.2 2.7"/>
<path d="M652 551.1 L652 551.1 L652.1 550.9 L652.2 550.7 L652.3 550.5 L652.4 550.2 L652.5 549.9 L652.6 549.6 L652.8 549.2 L652.9 548.9 L653.1 548.4 L653.3 548 L653.5 547.5 L653.7 547.1 L653.9 546.5 L654.2 546 L654.4 545.5 L654.6 544.9 L654.9 544.3 L655.1 543.7 L655.4 543 L655.7 542.4 L656 541.7 L656.3 541 L656.6 540.3 L656.9 539.6 L657.2 538.8 L657.5 538.1 L657.8 537.3 L658.2 536.5 L658.5 535.7 L658.9 534.8 L659.2 534 L659.6 533.1 L660 532.2 L660.3 531.3 L660.7 530.4 L661.1 529.5 L661.5 528.6 L661.9 527.6 L662.3 526.7 L662.7 525.7 L663.2 524.7 L663.6 523.7 L664 522.7 L664.5 521.6 L664.9 520.6 L665.4 519.5 L665.8 518.5 L666.3 517.4 L666.8 516.3 L667.2 515.2 L667.7 514.1 L668.2 512.9 L668.7 511.8 L669.2 510.6 L669.7 509.5 L670.2 508.3 L670.7 507.1 L671.2 505.9 L671.8 504.7 L672.3 503.5 L672.8 502.3 L673.4 501.1 L673.9 499.9 L674.5 498.6 L675 497.4 L675.6 496.1 L676.1 494.9 L676.7 493.6 L677.3 492.3 L677.9 491 L678.5 489.7 L679 488.4 L679.6 487.1 L680.2 485.8 L680.8 484.5 L681.4 483.2 L682.1 481.9 L682.7 480.5 L683.3 479.2 L683.9 477.9 L684.6 476.5 L685.2 475.2 L685.8 473.9 L686.5 472.5 L687.1 471.2 L687.8 469.8 L688.5 468.5 L689.1 467.1 L689.8 465.8 L690.5 464.4 L691.2 463.1 L691.8 461.7 L692.5 460.4 L693.2 459.1 L693.9 457.7 L694.6 456.4 L695.3 455.1 L696 453.7 L696.7 452.4 L697.5 451.1 L698.2 449.8 L698.9 448.4 L699.6 447.1 L700.4 445.8 L701.1 444.5 L701.9 443.3 L702.6 442 L703.4 440.7 L704.1 439.5 L704.9 438.2 L705.6 436.9 L706.4 435.7 L707.2 434.5 L708 433.2 L708.7 432 L709.5 430.8 L710.3 429.6 L711.1 428.4 L711.9 427.2 L712.7 426 L713.5 424.8 L714.3 423.7 L715.1 422.5 L715.9 421.4 L716.8 420.2 L717.6 419.1 L718.4 418 L719.2 416.9 L720.1 415.8 L720.9 414.7 L721.8 413.6 L722.6 412.5 L723.5 411.4 L724.3 410.4 L725.2 409.3 L726 408.3 L726.9 407.2 L727.8 406.2 L728.6 405.2 L729.5 404.2 L730.4 403.2 L731.3 402.2 L732.2 401.2 L733.1 400.3 L734 399.3 L734.9 398.4 L735.8 397.4 L736.7 396.5 L737.6 395.6 L738.5 394.7 L739.4 393.8 L740.3 392.9 L741.3 392 L742.2 391.1 L743.1 390.2 L744.1 389.4 L745 388.5 L746 387.7 L746.9 386.8 L747.9 386 L748.8 385.2 L749.8 384.4 L750.7 383.6 L751.7 382.8 L752.7 382 L753.6 381.3 L754.6 380.5 L755.6 379.7 L756.6 379 L757.6 378.2 L758.5 377.5 L759.5 376.8 L760.5 376.1 L761.5 375.3 L762.5 374.6 L763.5 374 L764.6 373.3 L765.6 372.6 L766.6 371.9 L767.6 371.3 L768.6 370.6 L769.7 370 L770.7 369.4 L771.7 368.7 L772.8 368.1 L773.8 367.5 L774.8 367 L775.9 366.4 L776.9 365.8 L778 365.2 L779.1 364.7 L780.1 364.2 L781.2 363.6 L782.2 363.1 L783.3 362.6 L784.4 362.1 L785.5 361.6 L786.5 361.1 L787.6 360.7 L788.7 360.2 L789.8 359.7 L790.9 359.3 L792 358.8 L793.1 358.4 L794.2 358 L795.3 357.6 L796.4 357.2 L797.5 356.7 L798.6 356.3 L799.8 356 L800.9 355.6 L802 355.2 L803.1 354.8 L804.3 354.4 L805.4 354 L806.5 353.7 L807.7 353.3 L808.8 353 L810 352.6 L811.1 352.3 L812.3 351.9 L813.4 351.6 L814.6 351.2 L815.8 350.9 L816.9 350.5 L818.1 350.2 L819.3 349.8 L820.4 349.5 L821.6 349.2 L822.8 348.8 L824 348.5 L825.2 348.2 L826.4 347.8 L827.6 347.5 L828.7 347.2 L829.9 346.9 L831.2 346.6 L832.4 346.2 L833.6 345.9 L834.8 345.6 L836 345.3 L837.2 345 L838.4 344.7 L839.7 344.4 L840.9 344.2 L842.1 343.9 L843.3 343.6 L844.6 343.3 L845.8 343 L847.1 342.7 L848.3 342.4 L849.6 342.2 L850.8 341.9 L852.1 341.6 L853.3 341.4 L854.6 341.1 L855.8 340.8 L857.1 340.6 L858.4 340.3 L859.6 340.1 L860.9 339.8 L862.2 339.6 L863.5 339.3 L864.8 339.1 L866 338.9 L867.3 338.6 L868.6 338.4 L869.9 338.2 L871.2 337.9 L872.5 337.7 L873.8 337.5 L875.1 337.3 L876.4 337.1 L877.8 336.8 L879.1 336.6 L880.4 336.4 L881.7 336.2 L883 336 L884.4 335.8 L885.7 335.6 L887 335.4 L888.3 335.2 L889.7 335 L891 334.8 L892.4 334.6 L893.7 334.4 L895.1 334.3 L896.4 334.1 L897.8 333.9 L899.1 333.7 L900.5 333.6 L901.9 333.4 L903.2 333.2 L904.6 333.1 L906 332.9 L907.3 332.7 L908.7 332.6 L910.1 332.4 L911.5 332.3 L912.9 332.1 L914.2 332 L915.6 331.8 L917 331.7 L918.4 331.5 L919.8 331.4 L921.2 331.2 L922.6 331.1 L924 331 L925.4 330.8 L926.9 330.7 L928.3 330.6 L929.7 330.5 L931.1 330.4 L932.5 330.3 L934 330.1 L935.4 330 L936.8 329.9 L938.3 329.8 L939.7 329.7 L941.1 329.6 L942.6 329.5 L944 329.4 L945.5 329.3 L946.9 329.2 L948.4 329.1 L949.8 329 L951.3 328.9 L952.8 328.8 L954.2 328.7 L955.7 328.6 L957.2 328.5 L958.6 328.4 L960.1 328.4 L961.6 328.3 L963.1 328.2 L964.5 328.1 L966 328 L967.5 327.9 L969 327.9 L970.5 327.8 L972 327.7 L973.5 327.6 L975 327.6 L976.5 327.5 L978 327.4 L979.5 327.4 L981 327.3 L982.5 327.2 L984.1 327.2 L985.6 327.1 L987.1 327 L988.6 327 L990.1 326.9 L991.7 326.9 L993.2 326.8 L994.7 326.8 L996.3 326.7 L997.8 326.6 L999.4 326.6 L1000.9 326.5 L1002.5 326.5 L1004 326.4 L1005.6 326.4 L1007.1 326.3 L1008.7 326.3 L1010.2 326.2 L1011.8 326.2 L1013.4 326.1 L1014.9 326.1 L1016.5 326 L1018.1 326 L1019.6 325.9 L1021.2 325.9 L1022.8 325.8 L1024.4 325.7 L1026 325.7 L1027.6 325.6 L1029.2 325.6 L1030.7 325.5 L1032.3 325.5 L1033.9 325.4 L1035.5 325.4 L1037.1 325.3 L1038.8 325.2 L1040.4 325.2 L1042 325.1 L1043.6 325.1 L1045.2 325 L1046.8 325 L1048.4 324.9 L1050.1 324.9 L1051.7 324.8 L1053.3 324.8 L1055 324.7 L1056.6 324.7 L1058.2 324.6 L1059.9 324.5 L1061.5 324.5" fill="none" stroke="#231f20" stroke-width="3.55" stroke-dasharray="0.01 6.05" stroke-linecap="round"/>
<rect x="916.4" y="51" width="131.2" height="69.3" fill="#fff" stroke="#777" stroke-width="0.9"/>
<line x1="923.8" y1="67.1" x2="959.5" y2="67.1" stroke="#231f20" stroke-width="3.9" stroke-dasharray="0.01 6.45" stroke-linecap="round"/>
<line x1="922.8" y1="85.6" x2="958.2" y2="85.6" stroke="#231f20" stroke-width="1.6" />
<line x1="922.8" y1="103.7" x2="958.5" y2="103.7" stroke="#231f20" stroke-width="1.6" stroke-dasharray="11.5 4"/>
<text x="964.9" y="71.5" font-size="16.5" text-anchor="start" font-style="italic">Psora</text>
<text x="964.9" y="90.7" font-size="16.5" text-anchor="start" font-style="italic">Collema</text>
<text x="964.9" y="108.5" font-size="16.5" text-anchor="start" font-style="italic">Squamarina</text>
<rect x="916.2" y="477.5" width="131.4" height="87.7" fill="#fff" stroke="#777" stroke-width="0.9"/>
<line x1="923.8" y1="493.4" x2="969.5" y2="493.4" stroke="#231f20" stroke-width="1.6" />
<line x1="924.5" y1="512.7" x2="969.5" y2="512.7" stroke="#231f20" stroke-width="3.6" stroke-dasharray="0.01 6.06" stroke-linecap="round"/>
<line x1="923.8" y1="530.7" x2="965" y2="530.7" stroke="#231f20" stroke-width="1.6" stroke-dasharray="12.3 3.7"/>
<line x1="923.8" y1="549" x2="970.5" y2="549" stroke="#231f20" stroke-width="1.6" stroke-dasharray="7.2 2.7"/>
<text x="977.6" y="498.8" font-size="16.3" text-anchor="start" >Tabernas</text>
<text x="977.6" y="517.4" font-size="16.3" text-anchor="start" >Homburg</text>
<text x="977.6" y="535.4" font-size="16.3" text-anchor="start" >Öland</text>
<text x="977.6" y="553.8" font-size="16.3" text-anchor="start" >Hochtor</text>
<text y="309.6" font-size="23.2"><tspan x="85.5" textLength="11.5" lengthAdjust="spacingAndGlyphs">0</tspan></text>
<text y="237.9" font-size="23.2"><tspan x="85.5" textLength="11.5" lengthAdjust="spacingAndGlyphs">2</tspan></text>
<text y="164.8" font-size="23.2"><tspan x="85.5" textLength="11.5" lengthAdjust="spacingAndGlyphs">4</tspan></text>
<text y="91.7" font-size="23.2"><tspan x="85.5" textLength="11.5" lengthAdjust="spacingAndGlyphs">6</tspan></text>
<text y="19.8" font-size="23.2"><tspan x="85.5" textLength="11.5" lengthAdjust="spacingAndGlyphs">8</tspan></text>
<text y="603.5" font-size="23.2"><tspan x="72.4">−</tspan><tspan x="85.5" textLength="11.5" lengthAdjust="spacingAndGlyphs">2</tspan></text>
<text y="535.6" font-size="23.2"><tspan x="85.5" textLength="11.5" lengthAdjust="spacingAndGlyphs">0</tspan></text>
<text y="467.7" font-size="23.2"><tspan x="85.5" textLength="11.5" lengthAdjust="spacingAndGlyphs">2</tspan></text>
<text y="399.8" font-size="23.2"><tspan x="85.5" textLength="11.5" lengthAdjust="spacingAndGlyphs">4</tspan></text>
<text y="330.8" font-size="23.2"><tspan x="85.5" textLength="11.5" lengthAdjust="spacingAndGlyphs">6</tspan></text>
<text y="621.1" font-size="23.2"><tspan x="100.5" textLength="11.5" lengthAdjust="spacingAndGlyphs">0</tspan></text>
<text y="621.1" font-size="23.2"><tspan x="186.5" textLength="21.8" lengthAdjust="spacingAndGlyphs">10</tspan></text>
<text y="621.1" font-size="23.2"><tspan x="276.7" textLength="21.8" lengthAdjust="spacingAndGlyphs">20</tspan></text>
<text y="621.1" font-size="23.2"><tspan x="367.4" textLength="21.8" lengthAdjust="spacingAndGlyphs">30</tspan></text>
<text y="621.1" font-size="23.2"><tspan x="458.1" textLength="21.8" lengthAdjust="spacingAndGlyphs">40</tspan></text>
<text y="20.2" font-size="23.2"><tspan x="608" textLength="32.7" lengthAdjust="spacingAndGlyphs">100</tspan></text>
<text y="94" font-size="23.2"><tspan x="618.9" textLength="21.8" lengthAdjust="spacingAndGlyphs">50</tspan></text>
<text y="167" font-size="23.2"><tspan x="629.2" textLength="11.5" lengthAdjust="spacingAndGlyphs">0</tspan></text>
<text y="240.1" font-size="23.2"><tspan x="605.8">−</tspan><tspan x="618.9" textLength="21.8" lengthAdjust="spacingAndGlyphs">50</tspan></text>
<text y="311.9" font-size="23.2"><tspan x="594.2">−</tspan><tspan x="607.3" textLength="32.7" lengthAdjust="spacingAndGlyphs">100</tspan></text>
<text y="331.4" font-size="23.2"><tspan x="608" textLength="32.7" lengthAdjust="spacingAndGlyphs">100</tspan></text>
<text y="401.1" font-size="23.2"><tspan x="618.9" textLength="21.8" lengthAdjust="spacingAndGlyphs">50</tspan></text>
<text y="468.1" font-size="23.2"><tspan x="629.2" textLength="11.5" lengthAdjust="spacingAndGlyphs">0</tspan></text>
<text y="535.9" font-size="23.2"><tspan x="605.8">−</tspan><tspan x="618.9" textLength="21.8" lengthAdjust="spacingAndGlyphs">50</tspan></text>
<text y="603.6" font-size="23.2"><tspan x="594.9">−</tspan><tspan x="608" textLength="32.7" lengthAdjust="spacingAndGlyphs">100</tspan></text>
<text y="621.1" font-size="23.2"><tspan x="646.4" textLength="11.5" lengthAdjust="spacingAndGlyphs">0</tspan></text>
<text y="621.1" font-size="23.2"><tspan x="703.9" textLength="32.7" lengthAdjust="spacingAndGlyphs">200</tspan></text>
<text y="621.1" font-size="23.2"><tspan x="769" textLength="32.7" lengthAdjust="spacingAndGlyphs">400</tspan></text>
<text y="621.1" font-size="23.2"><tspan x="838.5" textLength="32.7" lengthAdjust="spacingAndGlyphs">600</tspan></text>
<text y="621.1" font-size="23.2"><tspan x="908.2" textLength="32.7" lengthAdjust="spacingAndGlyphs">800</tspan></text>
<text y="621.1" font-size="23.2"><tspan x="968.9" textLength="43.6" lengthAdjust="spacingAndGlyphs">1000</tspan></text>
<text y="621.1" font-size="23.2"><tspan x="1036.7" textLength="43.6" lengthAdjust="spacingAndGlyphs">1200</tspan></text>
<text x="118.8" y="38.3" font-size="21" text-anchor="start" >A</text>
<text x="120.6" y="333.6" font-size="21" text-anchor="start" >B</text>
<text x="669.5" y="40.8" font-size="21" text-anchor="start" >C</text>
<text x="669.7" y="332" font-size="21" text-anchor="start" >D</text>
<text x="310.3" y="659.3" font-size="22.25" text-anchor="middle" >Thallus temperature (°C)</text>
<text y="658.8" font-size="22.3"><tspan x="763.9" textLength="55.6" lengthAdjust="spacingAndGlyphs">PPFD</tspan><tspan> </tspan><tspan x="822.3">(µmol</tspan><tspan x="882.2">m</tspan><tspan x="898.6" dy="-8.3" font-size="14.5">−2</tspan><tspan x="922.5" dy="8.3">s</tspan><tspan x="930.5" dy="-8.3" font-size="14.5">−1</tspan><tspan x="946.4" dy="8.3">)</tspan></text>
<text transform="translate(17.4 157.6) rotate(-90)" font-size="22.3" text-anchor="middle">Gross photosynthesis</text>
<text transform="translate(45 245.3) rotate(-90)" font-size="22.6" text-anchor="start">(µmol CO<tspan font-size="14.5" dy="5.5">2</tspan><tspan dy="-5.5" dx="-1.1"> m</tspan><tspan font-size="14.5" dy="-8.5" dx="-1.2">−2</tspan><tspan dy="8.5" dx="-0.5"> s</tspan><tspan font-size="14.5" dy="-8.5" dx="0">−1</tspan><tspan dy="8.5" dx="0.5">)</tspan></text>
<text transform="translate(17.4 460.8) rotate(-90)" font-size="22.3" text-anchor="middle">Net photosynthesis</text>
<text transform="translate(45 542.3) rotate(-90)" font-size="22.6" text-anchor="start">(µmol CO<tspan font-size="14.5" dy="5.5">2</tspan><tspan dy="-5.5" dx="-1.1"> m</tspan><tspan font-size="14.5" dy="-8.5" dx="-1.2">−2</tspan><tspan dy="8.5" dx="-0.5"> s</tspan><tspan font-size="14.5" dy="-8.5" dx="0">−1</tspan><tspan dy="8.5" dx="0.5">)</tspan></text>
<text transform="translate(575 314.2) rotate(-90)" font-size="22.3" text-anchor="middle">Net photosynthesis (% maximal rate)</text>
</svg>
</body></html>
